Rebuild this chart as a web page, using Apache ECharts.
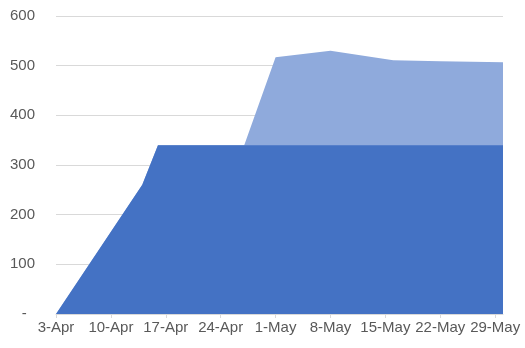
<!DOCTYPE html>
<html>
<head>
<meta charset="utf-8">
<script src="https://cdn.jsdelivr.net/npm/echarts@6/dist/echarts.min.js"></script>
<style>html,body{margin:0;padding:0;background:#fff}#c{width:525px;height:348px}</style>
</head>
<body>
<div id="c"></div>
<script>
// Tick labels (weekly, starting 3-Apr)
const xTickLabels = ["3-Apr","10-Apr","17-Apr","24-Apr","1-May","8-May","15-May","22-May","29-May"];
const startDate = "2020-04-03";
const endDate = "2020-05-30";

// Dark series (front)
const darkDates  = ["2020-04-03","2020-04-14","2020-04-16","2020-05-30"];
const darkValues = [0, 260, 340, 340];

// Light series (behind)
const lightDates  = ["2020-04-03","2020-04-14","2020-04-16","2020-04-27","2020-05-01","2020-05-08","2020-05-16","2020-05-22","2020-05-30"];
const lightValues = [0, 260, 340, 340, 517, 530, 511, 509, 507];

const yTicks = [0,100,200,300,400,500,600];

function dayOffset(s){
  const a = s.split('-').map(Number), b = startDate.split('-').map(Number);
  return Math.round((Date.UTC(a[0],a[1]-1,a[2]) - Date.UTC(b[0],b[1]-1,b[2]))/86400000);
}
const toPairs = (d,v) => d.map((s,i)=>[dayOffset(s), v[i]]);
const tickDays = xTickLabels.map((_,i)=>i*7);

const chart = echarts.init(document.getElementById('c'));
chart.setOption({
  animation:false,
  grid:{left:56,right:22,top:16,bottom:34},
  xAxis:{
    type:'value', min:0, max:dayOffset(endDate), interval:7,
    axisLine:{show:true,lineStyle:{color:'#d9d9d9',width:1}},
    axisTick:{show:true,length:4,lineStyle:{color:'#d9d9d9'},customValues:tickDays},
    axisLabel:{customValues:tickDays,color:'#595959',fontFamily:'Liberation Sans',fontSize:15,margin:6,
      formatter:v=>xTickLabels[Math.round(v/7)]||''},
    splitLine:{show:false}
  },
  yAxis:{
    type:'value', min:0, max:600, interval:100,
    axisLine:{show:false}, axisTick:{show:false},
    axisLabel:{color:'#595959',fontFamily:'Liberation Sans',fontSize:15,margin:21,
      formatter:v=>v===0?'-  ':String(v)},
    splitLine:{lineStyle:{color:'#d9d9d9',width:1}}
  },
  series:[
    {type:'line',data:toPairs(lightDates,lightValues),symbol:'none',lineStyle:{width:0},
     areaStyle:{color:'#8faadc',opacity:1},z:2},
    {type:'line',data:toPairs(darkDates,darkValues),symbol:'none',lineStyle:{width:0},
     areaStyle:{color:'#4472c4',opacity:1},z:3}
  ]
});
</script>
</body>
</html>
